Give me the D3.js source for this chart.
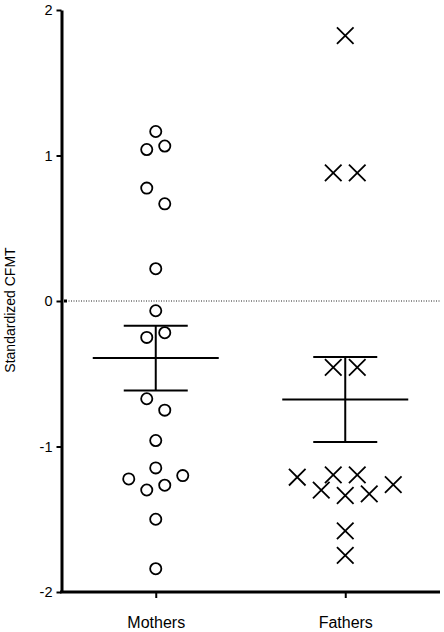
<!DOCTYPE html>
<html>
<head>
<meta charset="utf-8">
<script src="https://cdn.jsdelivr.net/npm/d3@7"></script>
<style>
  body { margin: 0; background: #fff; }
  text { font-family: "Liberation Sans", Arial, sans-serif; fill: #000; }
</style>
</head>
<body>
<div id="chart"></div>
<script>
// values
var categories = ["Mothers", "Fathers"];
var mothers = [1.165, 1.065, 1.041, 0.776, 0.668, 0.222, -0.067, -0.218, -0.25,
  -0.672, -0.75, -0.959, -1.147, -1.2, -1.223, -1.266, -1.299, -1.5, -1.84];
var fathers = [1.824, 0.881, 0.881, -0.456, -0.456, -1.195, -1.195, -1.211,
  -1.262, -1.30, -1.326, -1.337, -1.58, -1.748];
var yTicks = [-2, -1, 0, 1, 2];

var width = 444;
var height = 632;

var svg = d3.select('#chart')
  .append('svg')
  .attr('width', width)
  .attr('height', height);

var x = d3.scalePoint()
  .domain(categories)
  .range([61, 440])
  .padding(0.5);

var y = d3.scaleLinear()
  .domain([-2, 2])
  .range([592, 10]);

// column scatter: points close in value share a row and are spread sideways
const spread = (values, rowH, step) => {
  var pts = values.map(function(v) { return {v: v}; })
    .sort(function(a, b) { return a.v - b.v; });
  var rows = [];
  pts.forEach(function(p) {
    var row = rows[rows.length - 1];
    if (!row || y(row[0].v) - y(p.v) > rowH) rows.push([p]);
    else row.push(p);
  });
  rows.forEach(function(row, r) {
    var s0 = r % 2 === 0 ? -1 : 1;
    var n = row.length;
    row.forEach(function(p, i) {
      var mag = n % 2 ? 2 * Math.ceil(i / 2) : 2 * Math.floor(i / 2) + 1;
      var sign = s0 * (i % 2 ? -1 : 1);
      p.dx = sign * mag * step;
    });
  });
  return pts;
};

var groups = [
  {name: "Mothers", values: mothers, rowH: 16.5, step: 9, shape: "circle"},
  {name: "Fathers", values: fathers, rowH: 19.5, step: 12, shape: "cross"}
];

// zero line
svg.append('line')
  .attr('x1', 66).attr('x2', 440)
  .attr('y1', y(0)).attr('y2', y(0))
  .attr('stroke', '#222')
  .attr('stroke-width', 1)
  .attr('stroke-dasharray', '1,1.5');
svg.append('rect')
  .attr('x', 64).attr('y', y(0) - 1.5)
  .attr('width', 3).attr('height', 3)
  .attr('fill', '#000');

groups.forEach(function(g) {
  var cx = x(g.name);
  var pts = spread(g.values, g.rowH, g.step);
  var gg = svg.append('g');

  if (g.shape === "circle") {
    gg.selectAll('circle')
      .data(pts)
      .enter()
      .append('circle')
      .attr('cx', function(d) { return cx + d.dx; })
      .attr('cy', function(d) { return y(d.v); })
      .attr('r', 5.6)
      .attr('fill', 'none')
      .attr('stroke', '#000')
      .attr('stroke-width', 1.8);
  } else {
    var a = 8.3;
    gg.selectAll('path')
      .data(pts)
      .enter()
      .append('path')
      .attr('d', function(d) {
        var px = cx + d.dx, py = y(d.v);
        return 'M' + (px - a) + ',' + (py - a) + 'L' + (px + a) + ',' + (py + a) +
          'M' + (px - a) + ',' + (py + a) + 'L' + (px + a) + ',' + (py - a);
      })
      .attr('stroke', '#000')
      .attr('stroke-width', 1.8)
      .attr('fill', 'none');
  }

  // mean +/- SEM
  var m = d3.mean(g.values);
  var sem = d3.deviation(g.values) / Math.sqrt(g.values.length);
  var eb = svg.append('g')
    .attr('stroke', '#000')
    .attr('stroke-width', 2);
  eb.append('line')
    .attr('x1', cx - 63).attr('x2', cx + 63)
    .attr('y1', y(m)).attr('y2', y(m));
  eb.append('line')
    .attr('x1', cx).attr('x2', cx)
    .attr('y1', y(m + sem)).attr('y2', y(m - sem));
  [m + sem, m - sem].forEach(function(v) {
    eb.append('line')
      .attr('x1', cx - 32).attr('x2', cx + 32)
      .attr('y1', y(v)).attr('y2', y(v));
  });
});

// axes
var yAxis = svg.append('g')
  .attr('transform', 'translate(61.5,0)')
  .call(d3.axisLeft(y).tickValues(yTicks).tickSize(5).tickSizeOuter(0).tickPadding(4)
    .tickFormat(function(d) { return String(d); }));
yAxis.select('.domain').attr('stroke-width', 3).attr('stroke', '#000');
yAxis.selectAll('.tick line').attr('stroke-width', 2).attr('stroke', '#000');
yAxis.selectAll('.tick text')
  .attr('style', 'font-size: 14.5px; font-family: "Liberation Sans", Arial, sans-serif; fill: #000');

var xAxis = svg.append('g')
  .attr('transform', 'translate(0,592)')
  .call(d3.axisBottom(x).tickSize(6).tickSizeOuter(0).tickPadding(19));
xAxis.select('.domain').attr('stroke-width', 3).attr('stroke', '#000')
  .attr('d', 'M60,0H440');
xAxis.selectAll('.tick line').attr('stroke-width', 2).attr('stroke', '#000');
xAxis.selectAll('.tick text')
  .attr('style', 'font-size: 16px; font-family: "Liberation Sans", Arial, sans-serif; fill: #000');

svg.append('text')
  .attr('transform', 'translate(15,310) rotate(-90)')
  .attr('text-anchor', 'middle')
  .attr('style', 'font-size: 14px')
  .text('Standardized CFMT');
</script>
</body>
</html>
